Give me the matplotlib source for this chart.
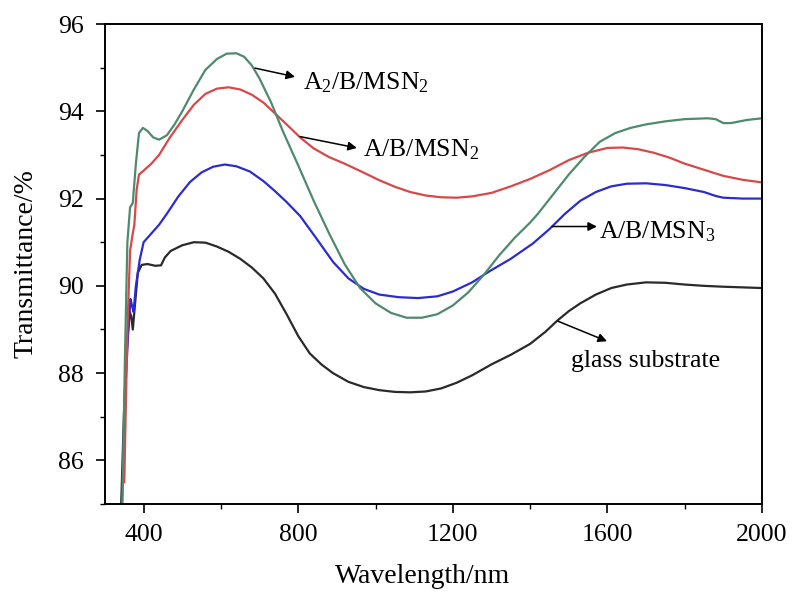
import matplotlib
matplotlib.use("Agg")
import matplotlib.pyplot as plt
from matplotlib.ticker import MultipleLocator

plt.rcParams['font.family'] = ['Liberation Serif', 'DejaVu Serif']
plt.rcParams['mathtext.fontset'] = 'custom'
plt.rcParams['mathtext.rm'] = 'Liberation Serif'
plt.rcParams['mathtext.it'] = 'Liberation Serif'

# Data
green_x = [345, 352, 358, 365, 372, 380, 388, 398, 410, 425, 440, 460, 480, 500, 530, 560, 590, 615,
           640, 660, 680, 700, 730, 760, 800, 840, 880, 920, 960, 1000, 1040, 1080, 1120, 1160, 1200,
           1240, 1280, 1320, 1360, 1400, 1420, 1460, 1500, 1540, 1580, 1620, 1660, 1700, 1750, 1800,
           1860, 1880, 1900, 1920, 1960, 2000]
green_y = [85.0, 88.5, 91.0, 91.8, 91.9, 92.8, 93.5, 93.62, 93.55, 93.4, 93.35, 93.45, 93.7, 94.0,
           94.5, 94.95, 95.2, 95.32, 95.33, 95.25, 95.05, 94.75, 94.2, 93.55, 92.76, 91.95, 91.2, 90.5,
           89.95, 89.6, 89.38, 89.27, 89.27, 89.35, 89.55, 89.85, 90.25, 90.7, 91.1, 91.45, 91.65,
           92.1, 92.55, 92.95, 93.3, 93.5, 93.62, 93.7, 93.77, 93.82, 93.84, 93.82, 93.73, 93.73,
           93.8, 93.84]

red_x = [350, 358, 365, 370, 376, 382, 388, 400, 420, 440, 468, 500, 530, 560, 590, 620, 650, 680,
         710, 740, 770, 805, 840, 880, 920, 968, 1010, 1050, 1090, 1130, 1170, 1210, 1250, 1300, 1350,
         1400, 1450, 1500, 1550, 1600, 1640, 1680, 1720, 1760, 1800, 1850, 1900, 1950, 2000]
red_y = [85.5, 89.0, 90.8, 91.1, 91.4, 92.2, 92.55, 92.64, 92.8, 93.0, 93.4, 93.8, 94.15, 94.4,
         94.52, 94.55, 94.5, 94.38, 94.2, 93.95, 93.7, 93.4, 93.15, 92.95, 92.8, 92.6, 92.42, 92.27,
         92.15, 92.07, 92.03, 92.02, 92.05, 92.13, 92.28, 92.45, 92.65, 92.88, 93.05, 93.16, 93.17,
         93.13, 93.05, 92.94, 92.8, 92.66, 92.52, 92.43, 92.37]

blue_x = [344, 352, 360, 366, 370, 374, 380, 390, 400, 420, 440, 460, 490, 520, 550, 580, 610, 640,
          675, 710, 740, 770, 805, 850, 890, 930, 970, 1010, 1060, 1110, 1160, 1200, 1250, 1296, 1350,
          1407, 1450, 1490, 1530, 1570, 1610, 1650, 1700, 1750, 1800, 1850, 1880, 1900, 1950, 2000]
blue_y = [85.0, 87.5, 88.9, 89.7, 89.55, 89.4, 90.0, 90.6, 91.0, 91.2, 91.4, 91.65, 92.05, 92.38,
          92.6, 92.73, 92.78, 92.74, 92.62, 92.4, 92.17, 91.92, 91.6, 91.05, 90.55, 90.17, 89.93,
          89.8, 89.74, 89.72, 89.76, 89.87, 90.08, 90.34, 90.62, 90.97, 91.3, 91.65, 91.95, 92.15,
          92.28, 92.34, 92.35, 92.31, 92.24, 92.15, 92.06, 92.02, 92.0, 92.0]

black_x = [342, 350, 358, 364, 368, 372, 378, 385, 395, 410, 430, 445, 455, 470, 500, 530, 560, 590,
           620, 650, 680, 710, 740, 770, 800, 830, 860, 890, 930, 970, 1010, 1050, 1090, 1130, 1170,
           1210, 1250, 1300, 1350, 1400, 1440, 1470, 1500, 1530, 1570, 1610, 1650, 1700, 1750, 1800,
           1850, 1900, 2000]
black_y = [85.0, 87.3, 88.8, 89.4, 89.3, 89.0, 89.6, 90.3, 90.48, 90.5, 90.46, 90.47, 90.65, 90.8,
           90.93, 91.0, 90.99, 90.9, 90.78, 90.62, 90.42, 90.17, 89.82, 89.35, 88.85, 88.45, 88.2,
           88.0, 87.8, 87.68, 87.61, 87.57, 87.56, 87.58, 87.65, 87.78, 87.95, 88.2, 88.42, 88.67,
           88.95, 89.2, 89.42, 89.6, 89.8, 89.95, 90.03, 90.08, 90.07, 90.03, 90.0, 89.98, 89.95]

labels = ["A$_2$/B/MSN$_2$", "A/B/MSN$_2$", "A/B/MSN$_3$", "glass substrate"]

fig = plt.figure(figsize=(7.94, 5.93), dpi=100)
ax = fig.add_axes([0.1322, 0.1500, 0.8275, 0.8095])

ax.plot(black_x, black_y, color='#2a2a2a', lw=1.6)
ax.plot(blue_x, blue_y, color='#2b2bd0', lw=1.6)
ax.plot(red_x, red_y, color='#d84848', lw=1.6)
ax.plot(green_x, green_y, color='#4f8a6e', lw=1.6)

ax.set_xlim(300, 2000)
ax.set_ylim(85, 96)
ax.xaxis.set_major_locator(MultipleLocator(400))
ax.xaxis.set_minor_locator(MultipleLocator(200))
ax.yaxis.set_major_locator(MultipleLocator(2))
ax.yaxis.set_minor_locator(MultipleLocator(1))
ax.tick_params(which='major', direction='out', length=6.5, width=1.2, labelsize=18.5)
ax.tick_params(which='minor', direction='out', length=3.5, width=1.0)
ax.tick_params(axis='x', which='major', pad=8)
ax.tick_params(axis='y', which='major', pad=9)
for s in ax.spines.values():
    s.set_linewidth(1.4)

ax.set_xlabel("Wavelength/nm", fontsize=20)
ax.set_ylabel("Transmittance/%", fontsize=20, va='center')
ax.xaxis.set_label_coords(0.483, -0.125)
ax.yaxis.set_label_coords(-0.12, 0.5)

fs = 18.5
ap = dict(arrowstyle='-|>', color='black', lw=1.1, mutation_scale=13, shrinkA=0, shrinkB=0)
ax.annotate("", xy=(792, 94.79), xytext=(688, 94.99), arrowprops=ap)
ax.text(812, 94.65, labels[0], fontsize=fs, va='center', ha='left')
ax.annotate("", xy=(952, 93.16), xytext=(805, 93.42), arrowprops=ap)
ax.text(968, 93.12, labels[1], fontsize=fs, va='center', ha='left')
ax.annotate("", xy=(1573, 91.36), xytext=(1457, 91.36), arrowprops=ap)
ax.text(1578, 91.24, labels[2], fontsize=fs, va='center', ha='left')
ax.annotate("", xy=(1599, 88.73), xytext=(1472, 89.19), arrowprops=ap)
ax.text(1505, 88.27, labels[3], fontsize=fs, va='center', ha='left')

fig.savefig("out.png", dpi=100)
